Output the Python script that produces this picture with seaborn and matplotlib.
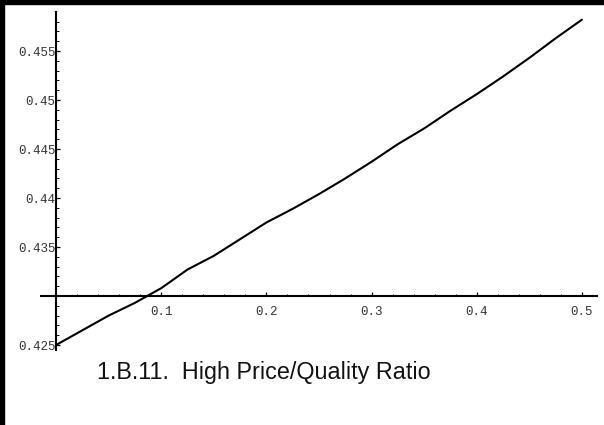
import matplotlib
matplotlib.use("Agg")
import matplotlib.pyplot as plt
from matplotlib.patches import Rectangle
from matplotlib.ticker import FixedLocator, MultipleLocator
import seaborn as sns
import pandas as pd

# Data
x_vals = [0.0, 0.025, 0.05, 0.075, 0.1, 0.125, 0.15, 0.175, 0.2, 0.225, 0.25,
          0.275, 0.3, 0.325, 0.35, 0.375, 0.4, 0.425, 0.45, 0.475, 0.5]
y_vals = [0.4250, 0.4265, 0.4280, 0.4293, 0.4308, 0.4327, 0.4341, 0.4358, 0.4375,
          0.4389, 0.4404, 0.4420, 0.4437, 0.4455, 0.4471, 0.4489, 0.4506, 0.4524,
          0.4543, 0.4563, 0.4582]
x_ticks = [0.1, 0.2, 0.3, 0.4, 0.5]
x_tick_labels = ["0.1", "0.2", "0.3", "0.4", "0.5"]
y_ticks = [0.425, 0.435, 0.44, 0.445, 0.45, 0.455]
y_tick_labels = ["0.425", "0.435", "0.44", "0.445", "0.45", "0.455"]
title_text = "1.B.11.  High Price/Quality Ratio"

sns.set_style("white")
plt.rcParams['font.family'] = ['Liberation Mono', 'DejaVu Sans Mono']

df = pd.DataFrame({"x": x_vals, "y": y_vals})

fig = plt.figure(figsize=(6.04, 4.25), dpi=100)
ax = fig.add_axes([41 / 604, 1 - 350 / 425, 556 / 604, 338 / 425])
ax.patch.set_alpha(0)

sns.lineplot(data=df, x="x", y="y", ax=ax, color="black", linewidth=1.5)

ax.set_xlim(-0.0143, 0.5143)
ax.set_ylim(0.42449, 0.45898)

for s in ["top", "right"]:
    ax.spines[s].set_visible(False)
ax.spines["left"].set_position(("data", 0))
ax.spines["bottom"].set_position(("data", 0.43))
for s in ["left", "bottom"]:
    ax.spines[s].set_linewidth(1.5)
    ax.spines[s].set_color("black")

ax.xaxis.set_major_locator(FixedLocator(x_ticks))
ax.set_xticklabels(x_tick_labels)
ax.xaxis.set_minor_locator(MultipleLocator(0.02))
ax.yaxis.set_major_locator(FixedLocator(y_ticks))
ax.set_yticklabels(y_tick_labels)
ax.yaxis.set_minor_locator(MultipleLocator(0.001))

ax.tick_params(axis="both", which="major", direction="in", length=3, width=0.9,
               color="black", labelsize=9, labelcolor="#333333")
ax.tick_params(axis="both", which="minor", direction="in", length=1.8, width=0.7,
               color="black")
ax.tick_params(axis="x", which="major", pad=7)
ax.tick_params(axis="y", which="major", pad=0.5)
ax.tick_params(axis="x", which="both", bottom=True)
ax.tick_params(axis="y", which="both", left=True)
ax.set_xlabel("")
ax.set_ylabel("")

fig.text(264 / 604, 1 - 372 / 425, title_text, ha="center", va="center",
         fontsize=16.8, family=["Liberation Sans", "DejaVu Sans"], color="#111111")

# Frame (top and left thick borders)
fig.patches.append(Rectangle((0, 1 - 4 / 425), 1, 4 / 425, transform=fig.transFigure,
                             color="black", zorder=10))
fig.patches.append(Rectangle((0, 0), 4 / 604, 1, transform=fig.transFigure,
                             color="black", zorder=10))

fig.savefig("out.png", dpi=100)
